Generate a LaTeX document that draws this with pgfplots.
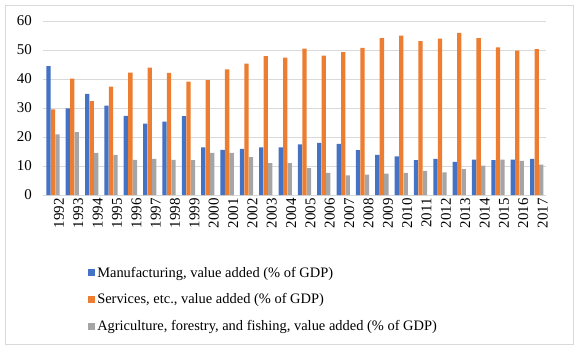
\documentclass[border=0pt]{standalone}
\usepackage{pgfplots}
\pgfplotsset{compat=1.18}
\usepackage{fontspec}
\setmainfont{Liberation Serif}
\definecolor{cblue}{HTML}{4472C4}
\definecolor{corange}{HTML}{ED7D31}
\definecolor{cgray}{HTML}{A5A5A5}
\definecolor{gridc}{HTML}{D9D9D9}
\begin{document}
\begin{tikzpicture}[x=1bp,y=1bp]
\path (-53bp,-156bp) rectangle (526bp,195bp);
\draw[gridc, line width=0.8bp] (-48bp,-149bp) rectangle (520bp,190bp);
\begin{axis}[
  at={(0,0)}, anchor=origin,
  scale only axis, width=503bp, height=174bp,
  ybar=0.2bp, bar width=4.3bp,
  xmin=-0.5, xmax=25.5, ymin=0, ymax=60,
  ytick={0,10,...,60},
  xtick={0,...,25},
  xticklabels={1992,1993,1994,1995,1996,1997,1998,1999,2000,2001,2002,2003,2004,2005,2006,2007,2008,2009,2010,2011,2012,2013,2014,2015,2016,2017},
  x tick label style={rotate=90, anchor=east, font=\rmfamily\fontsize{15}{16}\selectfont, yshift=-6bp},
  y tick label style={font=\rmfamily\fontsize{15}{16}\selectfont, xshift=-8bp},
  /pgf/number format/assume math mode=true,
  major tick length=0pt,
  ymajorgrids, grid style={gridc, line width=0.6bp},
  axis x line*=bottom, axis y line*=left,
  x axis line style={gridc, line width=0.8bp},
  y axis line style={draw=none},
  legend cell align=left,
  legend style={draw=none, at={(0.083,-0.39)}, anchor=north west,
    font=\rmfamily\fontsize{14.5}{15}\selectfont, row sep=11bp, fill=none},
  legend image code/.code={\fill[#1] (0bp,-3.5bp) rectangle (7bp,3.5bp);},
]
\addplot[fill=cblue, draw=none] coordinates {
(0,44.4)(1,29.9)(2,34.9)(3,30.8)(4,27.3)(5,24.6)(6,25.3)(7,27.2)(8,16.4)(9,15.6)(10,15.9)(11,16.4)(12,16.4)
(13,17.5)(14,18.0)(15,17.6)(16,15.5)(17,13.8)(18,13.3)(19,12.0)(20,12.5)(21,11.4)(22,12.2)(23,12.0)(24,12.2)(25,12.5)};
\addplot[fill=corange, draw=none] coordinates {
(0,29.5)(1,40.1)(2,32.4)(3,37.4)(4,42.2)(5,43.9)(6,42.1)(7,39.1)(8,39.6)(9,43.3)(10,45.3)(11,47.9)(12,47.4)
(13,50.5)(14,48.1)(15,49.3)(16,50.7)(17,54.1)(18,55.0)(19,53.1)(20,53.9)(21,55.9)(22,54.1)(23,50.9)(24,49.8)(25,50.3)};
\addplot[fill=cgray, draw=none] coordinates {
(0,20.9)(1,21.7)(2,14.5)(3,13.8)(4,12.1)(5,12.5)(6,12.1)(7,12.0)(8,14.5)(9,14.5)(10,13.1)(11,11.0)(12,11.0)
(13,9.3)(14,7.6)(15,6.8)(16,7.0)(17,7.4)(18,7.6)(19,8.3)(20,7.8)(21,8.9)(22,10.1)(23,12.2)(24,11.8)(25,10.5)};
\legend{{Manufacturing, value added (\% of GDP)},{Services, etc., value added (\% of GDP)},{Agriculture, forestry, and fishing, value added (\% of GDP)}}
\end{axis}
\end{tikzpicture}
\end{document}
